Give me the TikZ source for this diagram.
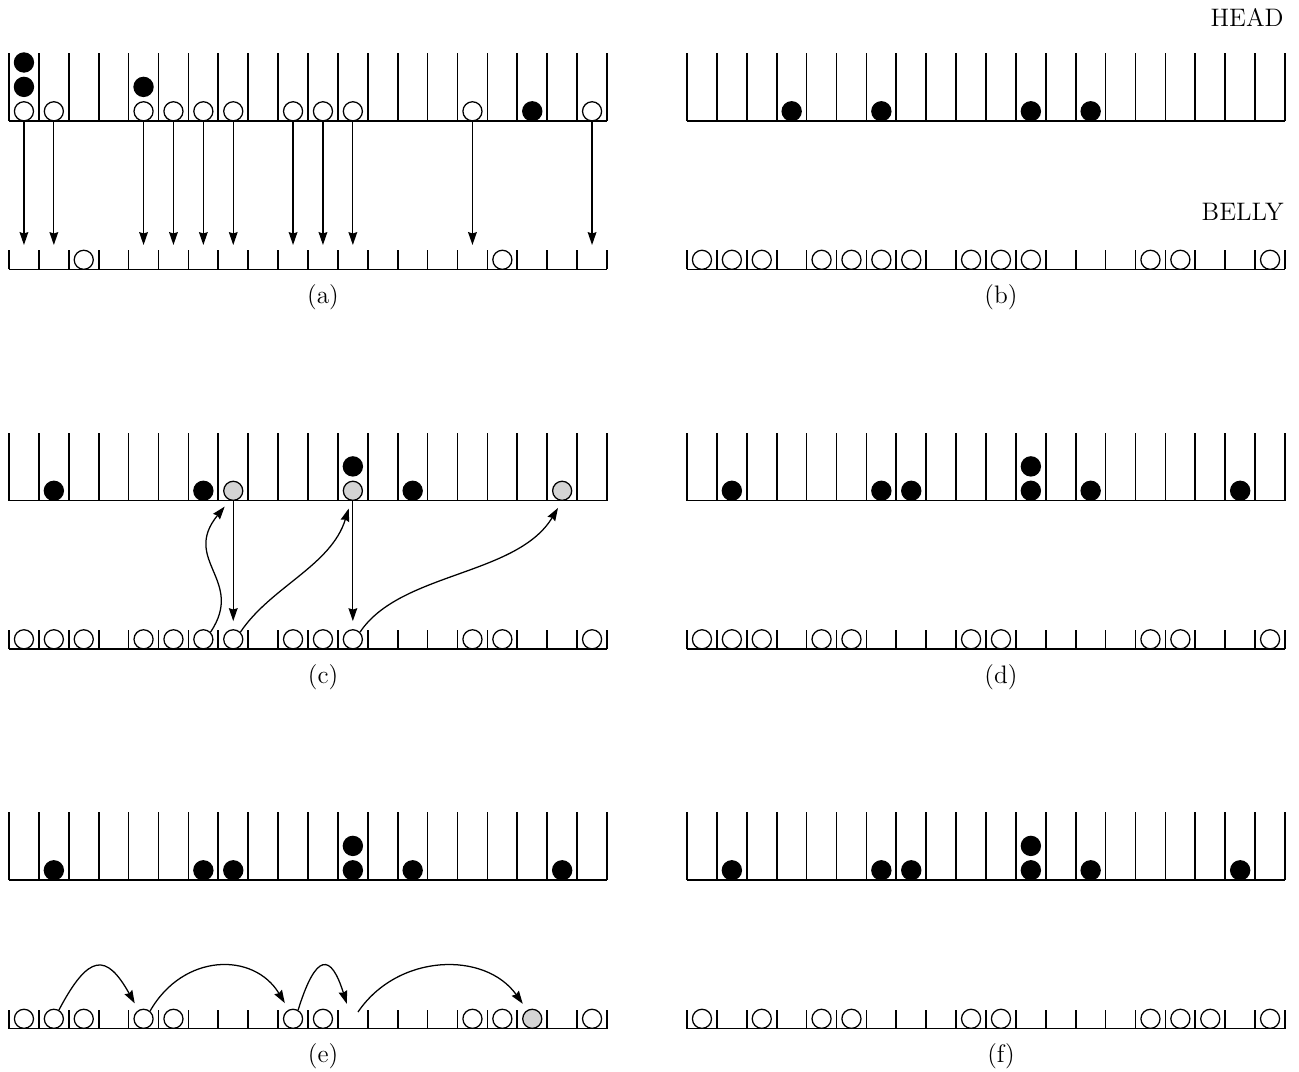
\documentclass[tikz,border=0pt]{standalone}
\usetikzlibrary{arrows.meta}
\begin{document}
\begin{tikzpicture}[x=0.4348pt,y=-0.4348pt,
  wall/.style={line width=0.75pt},
  wb/.style={circle,draw,fill=white,line width=0.55pt,inner sep=0pt,minimum size=8.3pt},
  bb/.style={wb,fill=black},
  gb/.style={wb,fill=black!17},
  arr/.style={line width=0.55pt,-{Stealth[length=5.6pt,width=3.8pt,inset=0.6pt]}},
  lbl/.style={inner sep=0pt},
  every node/.append style={font=\fontsize{11}{13}\selectfont}
]
\useasboundingbox (0,0) rectangle (1299,1072);
% ---------- helpers
\newcommand\headbar[2]{%
  \draw[wall] (#1,#2) -- ({#1+598},#2);
  \foreach \k in {0,...,20} {\draw[wall] ({#1+29.9*\k},#2) -- ({#1+29.9*\k},{#2-68});}}
\newcommand\bellybar[2]{%
  \draw[wall] (#1,#2) -- ({#1+598},#2);
  \foreach \k in {0,...,20} {\draw[wall] ({#1+29.9*\k},#2) -- ({#1+29.9*\k},{#2-19});}}
% ball: style, name, x0, base, slot, level
\newcommand\ball[6]{\node[#1] (#2) at ({#3+29.9*(#5+0.5)},{#4-9.7-24.4*#6}) {};}

% ---------- labels
\node[lbl,anchor=base east] (headlbl) at (1284,27) {HEAD};
\node[lbl,anchor=base east] (bellylbl) at (1284,221) {BELLY};
\node (la) at (323,297) {(a)};
\node (lb) at (1001,297) {(b)};
\node (lc) at (323,677) {(c)};
\node (ld) at (1001,677) {(d)};
\node (le) at (323,1056) {(e)};
\node (lf) at (1001,1056) {(f)};

% ================= (a)
\headbar{9}{121}
\bellybar{9}{269.5}
\foreach \i in {0,1,4,5,6,7,9,10,11,15,19}{
  \ball{wb}{ah\i}{9}{121}{\i}{0}
  \coordinate (at\i) at ({9+29.9*(\i+0.5)},245);
  \draw[arr] (ah\i.south) -- (at\i);
}
\ball{bb}{ah0b}{9}{121}{0}{1}
\ball{bb}{ah0c}{9}{121}{0}{2}
\ball{bb}{ah4b}{9}{121}{4}{1}
\ball{bb}{ah17}{9}{121}{17}{0}
\foreach \i in {2,16} {\ball{wb}{ab\i}{9}{269.5}{\i}{0}}

% ================= (b)
\headbar{687}{121}
\bellybar{687}{269.5}
\foreach \i in {3,6,11,13} {\ball{bb}{bh\i}{687}{121}{\i}{0}}
\foreach \i in {0,1,2,4,5,6,7,9,10,11,15,16,19} {\ball{wb}{bb\i}{687}{269.5}{\i}{0}}

% ================= (c)
\headbar{9}{500.5}
\bellybar{9}{649}
\foreach \i in {1,6,13} {\ball{bb}{ch\i}{9}{500.5}{\i}{0}}
\ball{bb}{ch11b}{9}{500.5}{11}{1}
\foreach \i in {7,11,18} {\ball{gb}{ch\i}{9}{500.5}{\i}{0}}
\foreach \i in {0,1,2,4,5,6,7,9,10,11,15,16,19} {\ball{wb}{cb\i}{9}{649}{\i}{0}}
\draw[arr,shorten >=3.5pt] (cb6.north east) .. controls +(35,-52) and +(-49,60) .. (ch7.250);
\draw[arr,shorten >=3.5pt] (ch7.south) -- (cb7.north);
\draw[arr,shorten >=3.5pt] (cb7.north east) .. controls +(30,-45) and +(-20,65) .. (ch11.260);
\draw[arr,shorten >=3.5pt] (ch11.south) -- (cb11.north);
\draw[arr,shorten >=3.5pt] (cb11.north east) .. controls +(40,-60) and +(-45,75) .. (ch18.south);

% ================= (d)
\headbar{687}{500.5}
\bellybar{687}{649}
\foreach \i in {1,6,7,11,13,18} {\ball{bb}{dh\i}{687}{500.5}{\i}{0}}
\ball{bb}{dh11b}{687}{500.5}{11}{1}
\foreach \i in {0,1,2,4,5,9,10,15,16,19} {\ball{wb}{db\i}{687}{649}{\i}{0}}

% ================= (e)
\headbar{9}{880}
\bellybar{9}{1028.5}
\foreach \i in {1,6,7,11,13,18} {\ball{bb}{eh\i}{9}{880}{\i}{0}}
\ball{bb}{eh11b}{9}{880}{11}{1}
\foreach \i in {0,1,2,4,5,9,10,15,16,19} {\ball{wb}{eb\i}{9}{1028.5}{\i}{0}}
\ball{gb}{eb17}{9}{1028.5}{17}{0}
\coordinate (e11in) at (349,1011);
\coordinate (e11out) at (358,1012);
\draw[arr,shorten >=3.3pt] (eb1.60) .. controls +(30,-57) and +(-32,-57) .. (eb4.120);
\draw[arr,shorten >=3.3pt] (eb4.50) .. controls +(33,-58) and +(-35,-58) .. (eb9.115);
\draw[arr,shorten >=3.3pt] (eb9.60) .. controls +(18,-58) and +(-18,-58) .. (e11in);
\draw[arr,shorten >=3.3pt] (e11out) .. controls +(40,-59) and +(-42,-59) .. (eb17.120);

% ================= (f)
\headbar{687}{880}
\bellybar{687}{1028.5}
\foreach \i in {1,6,7,11,13,18} {\ball{bb}{fh\i}{687}{880}{\i}{0}}
\ball{bb}{fh11b}{687}{880}{11}{1}
\foreach \i in {0,2,4,5,9,10,15,16,17,19} {\ball{wb}{fb\i}{687}{1028.5}{\i}{0}}
\end{tikzpicture}
\end{document}
